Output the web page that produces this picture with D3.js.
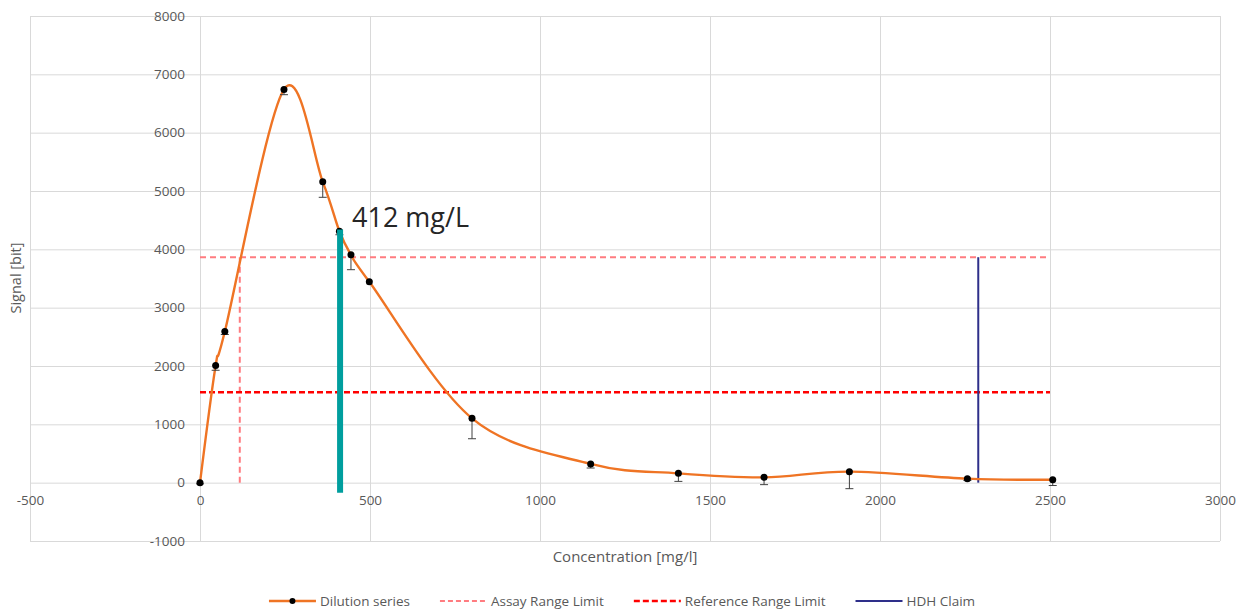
<!DOCTYPE html>
<html>
<head>
<meta charset="utf-8">
<script src="https://cdn.jsdelivr.net/npm/d3@7"></script>
<style>
  html, body { margin: 0; padding: 0; background: #fff; }
  svg { display: block; font-family: "Open Sans", "Noto Sans", sans-serif; }
</style>
</head>
<body>
<svg id="chart" width="1244" height="611"></svg>
<script>
// === Dilution series (hook effect) with range limits ===

// ---- DATA ----
const concentration = [0, 46, 73, 247, 361, 410, 444, 498, 800, 1149, 1407, 1659, 1910, 2257, 2508];
const signal        = [0, 2007, 2590, 6741, 5157, 4310, 3906, 3443, 1103, 321, 160, 91, 189, 69, 51];
const errorMinus    = [20, 80, 50, 90, 265, 60, 255, 0, 350, 70, 138, 125, 292, 30, 100];

const xTicks = [-500, 0, 500, 1000, 1500, 2000, 2500, 3000];
const yTicks = [-1000, 0, 1000, 2000, 3000, 4000, 5000, 6000, 7000, 8000];

// limit series: [concentration, signal] pairs, one array per segment
const assaySegments = [[[117, 0], [117, 3865]], [[0, 3865], [2500, 3865]]];
const referenceSegments = [[[0, 1549], [2500, 1549]]];
const hdhSegments = [[[2289, 0], [2289, 3865]]];

// marker line for the read-off value
const markerConc = 412;
const markerRange = [-172, 4340];
const markerLabel = "412 mg/L";

const legendLabels = ["Dilution series", "Assay Range Limit", "Reference Range Limit", "HDH Claim"];

// ---- STYLE ----
const ORANGE = "#ef7424", PINK = "#ff7c80", RED = "#ff0000", NAVY = "#2e2f8a", TEAL = "#009e9e";
const GRID = "#d9d9d9", TEXT = "#595959";

// ---- SCALES ----
const svg = d3.select("#chart");
const x = d3.scaleLinear().domain([-500, 3000]).range([30, 1220]);
const y = d3.scaleLinear().domain([-1000, 8000]).range([541, 16]);
const plain = d => String(d);   // hyphen minus like Excel, no thousands sep

// ---- GRID ----
svg.append("g")
  .attr("transform", `translate(0,${y(-1000)})`)
  .call(d3.axisBottom(x).tickValues(xTicks).tickSize(-(y(-1000) - y(8000))).tickFormat(""))
  .call(g => g.select(".domain").remove())
  .call(g => g.selectAll("line").attr("stroke", GRID));

svg.append("g")
  .attr("transform", `translate(${x(-500)},0)`)
  .call(d3.axisLeft(y).tickValues(yTicks).tickSize(-(x(3000) - x(-500))).tickFormat(""))
  .call(g => g.select(".domain").remove())
  .call(g => g.selectAll("line").attr("stroke", GRID));

// ---- TICK LABELS (sitting on the zero lines, Excel style) ----
svg.append("g")
  .attr("transform", `translate(0,${y(0)})`)
  .call(d3.axisBottom(x).tickValues(xTicks).tickSize(0).tickPadding(13).tickFormat(plain))
  .call(g => g.select(".domain").remove())
  .call(g => g.selectAll("text").attr("fill", TEXT).style("font-size", "13.5px").style("font-family", "Open Sans"));

svg.append("g")
  .attr("transform", `translate(${x(0)},0)`)
  .call(d3.axisLeft(y).tickValues(yTicks).tickSize(0).tickPadding(15).tickFormat(plain))
  .call(g => g.select(".domain").remove())
  .call(g => g.selectAll("text").attr("fill", TEXT).style("font-size", "13.5px").style("font-family", "Open Sans"));

// ---- AXIS TITLES ----
svg.append("text")
  .attr("x", 625).attr("y", 562)
  .attr("text-anchor", "middle")
  .attr("fill", TEXT)
  .style("font-size", "15px")
  .text("Concentration [mg/l]");

svg.append("text")
  .attr("transform", "translate(21,278) rotate(-90)")
  .attr("text-anchor", "middle")
  .attr("fill", TEXT)
  .style("font-size", "14.5px")
  .text("Signal [bit]");

// ---- LIMIT LINES ----
const segLine = d3.line().x(d => x(d[0])).y(d => y(d[1]));

function drawSegments(segs, color, width, dash) {
  svg.append("g").selectAll("path")
    .data(segs)
    .enter()
    .append("path")
    .attr("d", segLine)
    .attr("fill", "none")
    .attr("stroke", color)
    .attr("stroke-width", width)
    .attr("stroke-dasharray", dash);
}

drawSegments(assaySegments, PINK, 2, "6,4");
drawSegments(referenceSegments, RED, 2.5, "6,3");
drawSegments(hdhSegments, NAVY, 2, null);

// ---- DILUTION SERIES ----
const pts = concentration.map((c, i) => ({ c, s: signal[i], e: errorMinus[i] }));

svg.append("path")
  .datum(pts)
  .attr("d", d3.line().x(d => x(d.c)).y(d => y(d.s)).curve(d3.curveCardinal.tension(0)))
  .attr("fill", "none")
  .attr("stroke", ORANGE)
  .attr("stroke-width", 2.4);

// minus error bars
const err = svg.append("g").attr("stroke", "#404040").attr("stroke-width", 1);
err.selectAll("line.bar")
  .data(pts.filter(d => d.e > 0))
  .enter().append("line")
  .attr("class", "bar")
  .attr("x1", d => x(d.c)).attr("x2", d => x(d.c))
  .attr("y1", d => y(d.s)).attr("y2", d => y(d.s - d.e));
err.selectAll("line.cap")
  .data(pts.filter(d => d.e > 0))
  .enter().append("line")
  .attr("class", "cap")
  .attr("x1", d => x(d.c) - 4).attr("x2", d => x(d.c) + 4)
  .attr("y1", d => y(d.s - d.e)).attr("y2", d => y(d.s - d.e));

svg.append("g").selectAll("circle")
  .data(pts)
  .enter().append("circle")
  .attr("cx", d => x(d.c))
  .attr("cy", d => y(d.s))
  .attr("r", 3.5)
  .attr("fill", "#000");

// ---- READ-OFF MARKER ----
svg.append("line")
  .attr("x1", x(markerConc)).attr("x2", x(markerConc))
  .attr("y1", y(markerRange[0])).attr("y2", y(markerRange[1]))
  .attr("stroke", TEAL)
  .attr("stroke-width", 6);

svg.append("text")
  .attr("x", 352).attr("y", 227)
  .attr("fill", "#262626")
  .style("font-size", "27px")
  .text(markerLabel);

// ---- LEGEND ----
const legend = svg.append("g");
const SAMPLE = 47, GAP = 4, SPACING = 30;
let lx = 0;
legendLabels.forEach((label, i) => {
  const g = legend.append("g").attr("transform", `translate(${lx},0)`);
  const ln = g.append("line").attr("x1", 0).attr("x2", SAMPLE).attr("y1", 0).attr("y2", 0);
  if (i === 0) {
    ln.attr("stroke", ORANGE).attr("stroke-width", 2.4);
    g.append("circle").attr("cx", SAMPLE / 2).attr("cy", 0).attr("r", 3).attr("fill", "#000");
  } else if (i === 1) {
    ln.attr("stroke", PINK).attr("stroke-width", 2).attr("stroke-dasharray", "5,3");
  } else if (i === 2) {
    ln.attr("stroke", RED).attr("stroke-width", 2.5).attr("stroke-dasharray", "6,3");
  } else {
    ln.attr("stroke", NAVY).attr("stroke-width", 2);
  }
  const t = g.append("text")
    .attr("x", SAMPLE + GAP).attr("y", 0).attr("dy", "0.35em")
    .attr("fill", TEXT)
    .style("font-size", "13.5px")
    .text(label);
  lx += SAMPLE + GAP + t.node().getComputedTextLength() + SPACING;
});
const legendW = lx - SPACING;
legend.attr("transform", `translate(${622 - legendW / 2},601)`);
</script>
</body>
</html>
